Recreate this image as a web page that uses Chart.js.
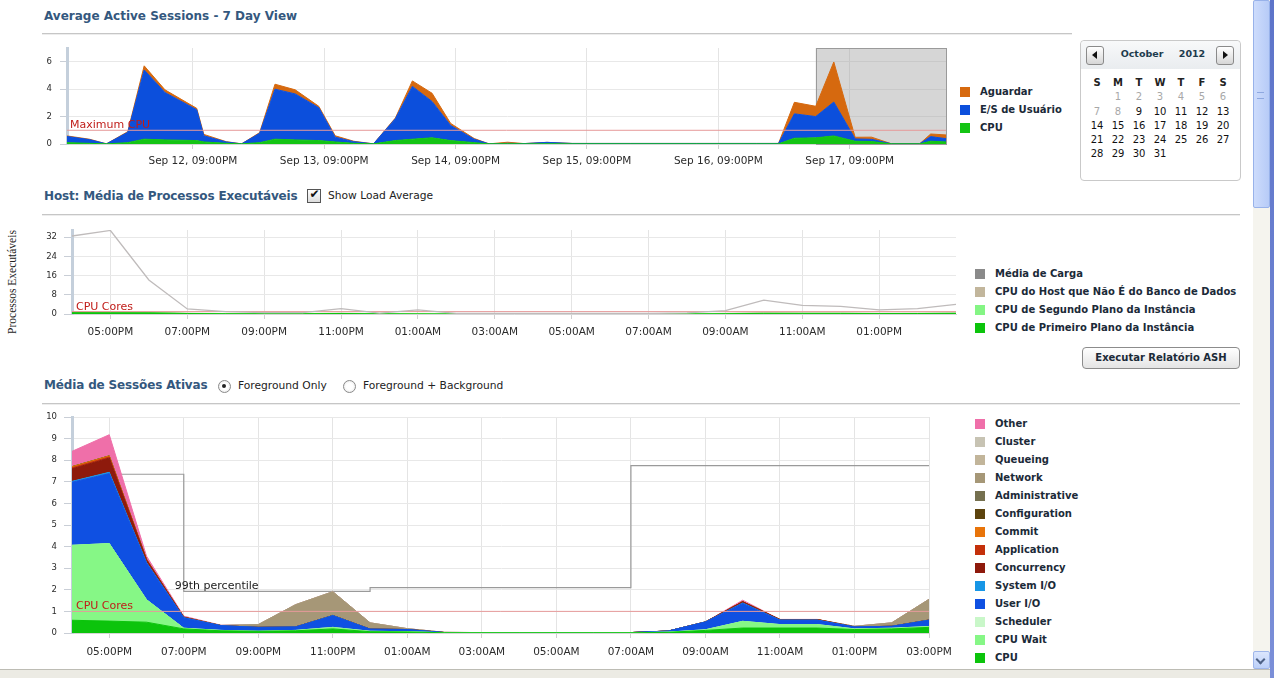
<!DOCTYPE html>
<html><head><meta charset="utf-8">
<script src="https://cdn.jsdelivr.net/npm/chart.js@4.4.0/dist/chart.umd.min.js"></script>
<style>
html,body{margin:0;padding:0;background:#fff;width:1274px;height:678px;overflow:hidden;font-family:"DejaVu Sans",sans-serif;}
.title{position:absolute;font:bold 12px "DejaVu Sans";color:#34587e;white-space:nowrap;line-height:14px;}
.sep{position:absolute;height:1px;background:#c6c6c6;border-bottom:1px solid #ededed;}
.leg{position:absolute;font:bold 10px "DejaVu Sans";color:#1b2a38;white-space:nowrap;line-height:12px;}
.leg i{position:absolute;left:-20px;top:1px;width:10px;height:10px;}
.opt{position:absolute;font:10.7px "DejaVu Sans";color:#222;white-space:nowrap;line-height:12px;}
.cv{position:absolute;}
.cal{position:absolute;left:1080px;top:40px;width:159px;height:139px;border:1px solid #c9c9c9;border-radius:4px;background:#fff;}
.calhead{position:absolute;left:0;top:0;width:159px;height:28px;background:linear-gradient(#f8f9fa,#e9ecef);border-radius:4px 4px 0 0;}
.cbtn{position:absolute;width:16px;height:17px;border:1px solid #8a8a8a;border-radius:3px;background:linear-gradient(#ffffff,#d6d6d6);}
.cd{position:absolute;width:20px;text-align:center;font:10px "DejaVu Sans";line-height:12px;}
.btn{position:absolute;left:1082px;top:347px;width:156px;height:20px;border:1px solid #8c8c8c;border-radius:4px;background:linear-gradient(#ffffff,#e4e4e4);font:bold 10px "DejaVu Sans";color:#1b2a38;text-align:center;line-height:20px;}
</style></head>
<body>
<script>
// ================= DATA =================
// Chart 1 : Average Active Sessions - 7 Day View (x = hours from Sep 12, 09:00PM)
const aasRange = [-23, 137.6];
const aasTickHours = [0, 24, 48, 72, 96, 120];
const aasTickLabels = ['Sep 12, 09:00PM','Sep 13, 09:00PM','Sep 14, 09:00PM','Sep 15, 09:00PM','Sep 16, 09:00PM','Sep 17, 09:00PM'];
const aasYTicks = [0, 2, 4, 6];
const aasYMax = 7;
const aasSeriesNames = ['CPU', 'E/S de Usuário', 'Aguardar'];
const aasHours = [-23, -18.9, -15.8, -11.9, -8.9, -5.1, 0.7, 2.0, 6.1, 8.9, 12.2, 15.0, 18.7, 23.0, 26.0, 29.4, 33.0, 37.0, 40.1, 43.7, 47.1, 51.4, 54.1, 57.5, 60.5, 64.7, 69.3, 80.0, 92.0, 103.0, 107.0, 109.9, 113.8, 117.1, 121.0, 124.0, 127.6, 132.8, 134.8, 137.6];
const aasCpu    = [0.10, 0.05, 0.01, 0.10, 0.35, 0.30, 0.25, 0.15, 0.05, 0.01, 0.10, 0.35, 0.30, 0.25, 0.15, 0.05, 0.01, 0.25, 0.35, 0.45, 0.25, 0.10, 0.01, 0.02, 0.01, 0.02, 0.01, 0.01, 0.01, 0.01, 0.01, 0.42, 0.45, 0.59, 0.20, 0.18, 0.01, 0.01, 0.20, 0.15];
const aasUserIO = [0.45, 0.27, 0.00, 0.75, 5.05, 3.45, 2.25, 0.45, 0.10, 0.00, 0.68, 3.65, 3.35, 2.40, 0.35, 0.12, 0.00, 1.60, 3.85, 2.65, 1.10, 0.25, 0.00, 0.03, 0.02, 0.10, 0.03, 0.03, 0.03, 0.03, 0.03, 1.78, 1.55, 2.47, 0.17, 0.16, 0.01, 0.01, 0.34, 0.24];
const aasWait   = [0.04, 0.03, 0.00, 0.05, 0.30, 0.20, 0.10, 0.10, 0.02, 0.00, 0.05, 0.36, 0.30, 0.10, 0.10, 0.03, 0.00, 0.05, 0.40, 0.60, 0.15, 0.05, 0.00, 0.08, 0.00, 0.00, 0.00, 0.00, 0.00, 0.00, 0.00, 0.84, 0.75, 2.92, 0.12, 0.16, 0.00, 0.00, 0.19, 0.27];
const aasMaxCpu = 1;
const aasSelection = [113.8, 137.6];

// Chart 2 : Host runnable processes (x = hours from 04:00PM)
const hostRange = [0, 23];
const hostHours = [0,1,2,3,4,5,6,7,8,9,10,11,12,13,14,15,16,17,18,19,20,21,22,23];
const hostTickHours = [1,3,5,7,9,11,13,15,17,19,21];
const hostTickLabels = ['05:00PM','07:00PM','09:00PM','11:00PM','01:00AM','03:00AM','05:00AM','07:00AM','09:00AM','11:00AM','01:00PM'];
const hostYTicks = [0, 8, 16, 24, 32];
const hostYMax = 35;
const hostLegendNames = ['Média de Carga','CPU do Host que Não É do Banco de Dados','CPU de Segundo Plano da Instância','CPU de Primeiro Plano da Instância'];
const hostLoad  = [32.5, 34.8, 14.2, 2.1, 1.0, 0.6, 0.6, 2.2, 0.4, 1.7, 0.3, 0.2, 0.2, 0.2, 0.2, 0.2, 0.5, 1.4, 5.8, 3.6, 3.2, 1.7, 2.2, 4.0];
const hostCpuFg = [0.60, 0.55, 0.50, 0.20, 0.10, 0.08, 0.10, 0.20, 0.06, 0.05, 0.02, 0.02, 0.02, 0.02, 0.02, 0.02, 0.03, 0.12, 0.25, 0.25, 0.25, 0.17, 0.20, 0.27];
const hostCpuBg = [0.15, 0.15, 0.10, 0.05, 0.05, 0.05, 0.05, 0.05, 0.05, 0.05, 0.03, 0.03, 0.03, 0.03, 0.03, 0.03, 0.03, 0.05, 0.08, 0.06, 0.06, 0.05, 0.05, 0.06];
const hostNonDb = [0.10, 0.10, 0.10, 0.08, 0.05, 0.05, 0.05, 0.10, 0.05, 0.08, 0.03, 0.03, 0.03, 0.03, 0.03, 0.03, 0.05, 0.10, 0.20, 0.10, 0.10, 0.08, 0.08, 0.10];
const hostCores = 1;

// Chart 3 : Média de Sessões Ativas (x = hours from 04:00PM)
const sessRange = [0, 23];
const sessHours = [0,1,2,3,4,5,6,7,8,9,10,11,12,13,14,15,16,17,18,19,20,21,22,23];
const sessTickHours = [1,3,5,7,9,11,13,15,17,19,21,23];
const sessTickLabels = ['05:00PM','07:00PM','09:00PM','11:00PM','01:00AM','03:00AM','05:00AM','07:00AM','09:00AM','11:00AM','01:00PM','03:00PM'];
const sessYTicks = [0,1,2,3,4,5,6,7,8,9,10];
const sessYMax = 10;
const sessSeriesNames = ['CPU','CPU Wait','Scheduler','User I/O','System I/O','Concurrency','Application','Commit','Configuration','Administrative','Network','Queueing','Cluster','Other'];
const sessCpu            = [0.59, 0.55, 0.50, 0.19, 0.10, 0.08, 0.10, 0.19, 0.06, 0.05, 0.01, 0.01, 0.01, 0.01, 0.01, 0.01, 0.03, 0.12, 0.23, 0.23, 0.23, 0.16, 0.19, 0.26];
const sessCpuWait        = [3.47, 3.59, 1.04, 0.03, 0.02, 0.00, 0.02, 0.07, 0.02, 0.01, 0, 0, 0, 0, 0, 0, 0.01, 0.03, 0.31, 0.16, 0.16, 0.03, 0.03, 0.04];
const sessScheduler      = [0, 0, 0, 0, 0, 0, 0, 0, 0, 0, 0, 0, 0, 0, 0, 0, 0, 0, 0, 0, 0, 0, 0, 0];
const sessUserIO         = [2.92, 3.24, 1.70, 0.48, 0.22, 0.18, 0.16, 0.54, 0.10, 0.10, 0.01, 0.01, 0.01, 0.01, 0.01, 0.01, 0.05, 0.36, 0.83, 0.20, 0.20, 0.09, 0.09, 0.29];
const sessSystemIO       = [0.04, 0.06, 0.02, 0.01, 0, 0, 0, 0.01, 0, 0, 0, 0, 0, 0, 0, 0, 0, 0, 0.02, 0.01, 0.01, 0, 0, 0.01];
const sessConcurrency    = [0.58, 0.66, 0.12, 0.02, 0, 0, 0, 0, 0, 0, 0, 0, 0, 0, 0, 0, 0, 0, 0.06, 0.02, 0.02, 0, 0, 0];
const sessApplication    = [0.05, 0.05, 0.02, 0, 0, 0, 0, 0, 0, 0, 0, 0, 0, 0, 0, 0, 0, 0, 0, 0, 0, 0, 0, 0];
const sessCommit         = [0.05, 0.05, 0.01, 0, 0, 0, 0, 0, 0, 0, 0, 0, 0, 0, 0, 0, 0, 0, 0, 0, 0, 0, 0, 0];
const sessConfiguration  = [0, 0, 0, 0, 0, 0, 0, 0, 0, 0, 0, 0, 0, 0, 0, 0, 0, 0, 0, 0, 0, 0, 0, 0];
const sessAdministrative = [0, 0, 0, 0, 0, 0, 0, 0, 0, 0, 0, 0, 0, 0, 0, 0, 0, 0, 0, 0, 0, 0, 0, 0];
const sessNetwork        = [0, 0, 0, 0, 0.01, 0.13, 1.03, 1.10, 0.29, 0.04, 0.01, 0, 0, 0, 0, 0, 0, 0, 0, 0, 0, 0.03, 0.16, 0.96];
const sessQueueing       = [0, 0, 0, 0, 0, 0, 0, 0, 0, 0, 0, 0, 0, 0, 0, 0, 0, 0, 0, 0, 0, 0, 0, 0];
const sessCluster        = [0, 0, 0, 0, 0, 0, 0, 0, 0, 0, 0, 0, 0, 0, 0, 0, 0, 0, 0, 0, 0, 0, 0, 0];
const sessOther          = [0.71, 0.98, 0.15, 0.05, 0.01, 0, 0, 0, 0, 0, 0, 0, 0, 0, 0, 0, 0, 0, 0.07, 0.01, 0.01, 0, 0, 0];
const p99Hours  = [0, 3, 8, 15, 23];
const p99Values = [7.35, 1.93, 2.1, 7.75, 7.75];
const p99Label = '99th percentile';
const sessCores = 1;

// Calendar
const calMonth = 'October', calYear = '2012';
const calWeekdays = ['S','M','T','W','T','F','S'];
const calFirstWeekday = 1, calDaysInMonth = 31, calFirstEnabled = 9;

// ================= STYLES =================
const aasColors = ['#14c414', '#0c4fdc', '#d6690f'];
const hostColors = {load:'#bfbbbb', loadLegend:'#8a8a8a', nonDb:'#c2b69c', bg:'#84f584', fg:'#0cc40c'};
const sessColors = ['#0cc40c','#86f786','#c9f7c9','#0f50e2','#1796e6','#8e1a0c','#c4300a','#e8740a','#5c430d','#75704f','#a69777','#c2b59a','#c7c3b3','#ef6fa9'];
const refRed = '#e69a9a', refText = '#c01c18';

Chart.defaults.font.family = '"DejaVu Sans", sans-serif';
Chart.defaults.color = '#2b2b2b';

function el(tag, cls, css, text) {
  const e = document.createElement(tag);
  if (cls) e.className = cls;
  if (css) e.style.cssText = css;
  if (text !== undefined) e.textContent = text;
  document.body.appendChild(e);
  return e;
}
function legend(names, colors, left, top0, step) {
  names.forEach((n, i) => {
    const d = el('div', 'leg', `left:${left}px;top:${top0 + i*step - 6}px;`, n);
    const sq = document.createElement('i');
    sq.style.background = colors[i];
    d.appendChild(sq);
  });
}
function makeCanvas(left, top, w, h) {
  const c = el('canvas', 'cv', `left:${left}px;top:${top}px;width:${w}px;height:${h}px;`);
  c.width = w; c.height = h;
  return c;
}
function pts(xs, ys) { return ys.map((v, i) => ({x: xs[i], y: v})); }
function areas(names, colors, series, xs) {
  return series.map((vals, i) => ({
    label: names[i], data: pts(xs, vals),
    backgroundColor: colors[i], borderColor: colors[i], borderWidth: 1,
    fill: i === 0 ? 'origin' : '-1', pointRadius: 0, tension: 0
  }));
}
function refLine(range, v) {
  return {label:'ref', data:[{x:range[0], y:v},{x:range[1], y:v}], stack:'ref', order:-1,
    borderColor: refRed, borderWidth: 1, fill: false, pointRadius: 0};
}
function xScale(range, tv, tl, h, pad) {
  return {
    type:'linear', min:range[0], max:range[1],
    afterBuildTicks: s => { s.ticks = tv.map(v => ({value:v})); },
    afterFit: s => { s.height = h; s.paddingLeft = 0; s.paddingRight = 0; },
    ticks: {autoSkip:false, maxRotation:0, padding:pad, color:'#2b2b2b', font:{size:10.5}, callback:(v, i) => tl[i]},
    grid: {color:'#e4e4e4', tickLength:5, tickColor:'#d0d0d0'},
    border: {display:true, color:'#d6d6d6'}
  };
}
function yScale(max, tv, w, tl, pad) {
  return {
    type:'linear', min:0, max:max, stacked:true,
    afterBuildTicks: s => { s.ticks = tv.map(v => ({value:v})); },
    afterFit: s => { s.width = w; s.paddingTop = 0; s.paddingBottom = 0; },
    ticks: {padding:pad, color:'#2b2b2b', font:{size:8.5}, callback: v => String(v)},
    grid: {color:'#e8e8e8', tickLength:tl, tickColor:'#c9ced6'},
    border: {display:true, color:'#c4cfdb', width:3}
  };
}
function labelPlugin(id, text, value, dx, color, font, xValue, dy) {
  return {id, afterDatasetsDraw(chart) {
    const {ctx, chartArea, scales} = chart;
    ctx.save();
    ctx.font = font; ctx.fillStyle = color; ctx.textBaseline = 'alphabetic';
    const x = xValue === undefined ? chartArea.left + dx : scales.x.getPixelForValue(xValue) + dx;
    ctx.fillText(text, x, scales.y.getPixelForValue(value) + dy);
    ctx.restore();
  }};
}
const baseOpts = (pad, scales) => ({
  responsive:false, animation:false, devicePixelRatio:1,
  layout:{padding:pad, autoPadding:false},
  plugins:{legend:{display:false}, tooltip:{enabled:false}},
  elements:{point:{radius:0}, line:{tension:0}},
  scales
});

// ================= PAGE FURNITURE =================
el('div', 'title', 'left:44px;top:9px;', 'Average Active Sessions - 7 Day View');
el('div', 'sep', 'left:42px;top:33px;width:1030px;');
el('div', 'title', 'left:44px;top:189px;letter-spacing:-0.15px;', 'Host: Média de Processos Executáveis');
el('div', '', 'position:absolute;left:307px;top:189px;width:12px;height:12px;border:1px solid #555;background:linear-gradient(#ffffff,#dcdcdc);');
el('div', '', 'position:absolute;left:308px;top:187px;width:13px;font:bold 12px "DejaVu Sans";color:#111;text-align:center;line-height:15px;', '✔');
el('div', 'opt', 'left:328px;top:190px;', 'Show Load Average');
el('div', 'sep', 'left:42px;top:214px;width:1198px;');
el('div', '', 'position:absolute;left:12px;top:282px;transform:translate(-50%,-50%) rotate(-90deg);font:11.5px "Liberation Serif",serif;color:#222;white-space:nowrap;', 'Processos Executáveis');
el('div', 'btn', '', 'Executar Relatório ASH');
el('div', 'title', 'left:44px;top:378px;letter-spacing:-0.15px;', 'Média de Sessões Ativas');
el('div', '', 'position:absolute;left:218px;top:380px;width:11px;height:11px;border:1px solid #8a8a8a;border-radius:50%;background:radial-gradient(circle,#ffffff 40%,#e2e2e2);');
el('div', '', 'position:absolute;left:222px;top:384px;width:4px;height:4px;border-radius:50%;background:#222;');
el('div', 'opt', 'left:238px;top:380px;', 'Foreground Only');
el('div', '', 'position:absolute;left:343px;top:380px;width:11px;height:11px;border:1px solid #8a8a8a;border-radius:50%;background:radial-gradient(circle,#ffffff 40%,#e2e2e2);');
el('div', 'opt', 'left:363px;top:380px;', 'Foreground + Background');
el('div', 'sep', 'left:42px;top:403px;width:1198px;');

// scrollbar + window frame
el('div', '', 'position:absolute;left:1253px;top:0;width:17px;height:669px;background:#f5f4ee;');
el('div', '', 'position:absolute;left:1253px;top:0;width:15px;height:206px;border:1px solid #98b2ea;border-radius:2px;background:linear-gradient(to right,#cddcfc,#b7cbf7);');
el('div', '', 'position:absolute;left:1257px;top:92px;width:7px;height:5px;border-top:1px solid #8ea8e0;border-bottom:1px solid #8ea8e0;');
el('div', '', 'position:absolute;left:1253px;top:651px;width:15px;height:16px;border:1px solid #9fb6ea;border-radius:2px;background:linear-gradient(#dbe6fd,#bcd0f8);');
el('div', '', 'position:absolute;left:1257px;top:656px;width:5px;height:5px;border-right:2px solid #4d6185;border-bottom:2px solid #4d6185;transform:rotate(45deg);');
el('div', '', 'position:absolute;left:1270px;top:0;width:4px;height:678px;background:linear-gradient(#5d74c9,#7b8fd8);');
el('div', '', 'position:absolute;left:0;top:669px;width:1270px;height:9px;background:#ecebe4;border-top:1px solid #bdbcb4;');

// calendar
const cal = el('div', 'cal');
const ch = document.createElement('div'); ch.className = 'calhead'; cal.appendChild(ch);
el('div', 'cbtn', 'left:1086px;top:46px;');
el('div', '', 'position:absolute;left:1092px;top:51px;width:0;height:0;border-top:4px solid transparent;border-bottom:4px solid transparent;border-right:5px solid #111;');
el('div', 'cbtn', 'left:1216px;top:46px;');
el('div', '', 'position:absolute;left:1223px;top:51px;width:0;height:0;border-top:4px solid transparent;border-bottom:4px solid transparent;border-left:5px solid #111;');
el('div', '', 'position:absolute;left:1112px;top:48px;width:60px;text-align:center;font:bold 9.5px "DejaVu Sans";color:#1d3b4d;line-height:12px;', calMonth);
el('div', '', 'position:absolute;left:1172px;top:48px;width:40px;text-align:center;font:bold 9.5px "DejaVu Sans";color:#1d3b4d;line-height:12px;', calYear);
const calCols = [1097, 1118, 1139, 1160, 1181, 1202, 1223];
const calRows = [97, 112, 126, 140, 154];
calWeekdays.forEach((d, i) => el('div', 'cd', `left:${calCols[i]-10}px;top:${83-6}px;font-weight:bold;color:#222;`, d));
for (let day = 1; day <= calDaysInMonth; day++) {
  const idx = calFirstWeekday + day - 1;
  const r = Math.floor(idx / 7), c = idx % 7;
  el('div', 'cd', `left:${calCols[c]-10}px;top:${calRows[r]-6}px;color:${day < calFirstEnabled ? '#a8a8a8' : '#111'};`, String(day));
}

// ================= CHART 1 =================
legend(aasSeriesNames.slice().reverse(), aasColors.slice().reverse(), 980, 91.5, 18);
const selPlugin = {id:'sel', beforeDatasetsDraw(chart) {
  const {ctx, scales:{x, y}} = chart;
  const x0 = x.getPixelForValue(aasSelection[0]), x1 = x.getPixelForValue(aasSelection[1]);
  const y0 = y.getPixelForValue(aasYMax), y1 = y.getPixelForValue(0);
  ctx.save();
  ctx.fillStyle = 'rgba(165,165,165,0.45)';
  ctx.fillRect(x0, y0, x1 - x0, y1 - y0);
  ctx.strokeStyle = '#9a9a9a'; ctx.lineWidth = 1;
  ctx.strokeRect(Math.round(x0) + 0.5, Math.round(y0) + 0.5, Math.round(x1 - x0), Math.round(y1 - y0));
  ctx.restore();
}};
new Chart(makeCanvas(0, 40, 960, 136), {
  type:'line',
  data:{datasets:[...areas(aasSeriesNames, aasColors, [aasCpu, aasUserIO, aasWait], aasHours), refLine(aasRange, aasMaxCpu)]},
  options: baseOpts({left:0, right:14, top:8, bottom:0}, {
    x: xScale(aasRange, aasTickHours, aasTickLabels, 32, 6),
    y: yScale(aasYMax, aasYTicks, 67, 7, 8)
  }),
  plugins:[selPlugin, labelPlugin('mx', 'Maximum CPU', aasMaxCpu, 3, refText, '11px "DejaVu Sans"', undefined, -2)]
});

// ================= CHART 2 =================
legend(hostLegendNames, [hostColors.loadLegend, hostColors.nonDb, hostColors.bg, hostColors.fg], 995, 273.5, 18);
new Chart(makeCanvas(0, 222, 980, 122), {
  type:'line',
  data:{datasets:[
    ...areas(['CPU de Primeiro Plano da Instância','CPU de Segundo Plano da Instância','CPU do Host que Não É do Banco de Dados'],
             [hostColors.fg, hostColors.bg, hostColors.nonDb], [hostCpuFg, hostCpuBg, hostNonDb], hostHours),
    refLine(hostRange, hostCores),
    {label:'Média de Carga', data: pts(hostHours, hostLoad), stack:'load', order:-2, borderColor:hostColors.load, borderWidth:1.3, fill:false, pointRadius:0}
  ]},
  options: baseOpts({left:0, right:24, top:8, bottom:0}, {
    x: xScale(hostRange, hostTickHours, hostTickLabels, 30, 7),
    y: yScale(hostYMax, hostYTicks, 72, 8, 7)
  }),
  plugins:[labelPlugin('cc2', 'CPU Cores', hostCores, 4, refText, '11px "DejaVu Sans"', undefined, -2)]
});

// ================= CHART 3 =================
legend(sessSeriesNames.slice().reverse(), sessColors.slice().reverse(), 995, 424, 18);
const sessSeries = [sessCpu, sessCpuWait, sessScheduler, sessUserIO, sessSystemIO, sessConcurrency, sessApplication, sessCommit, sessConfiguration, sessAdministrative, sessNetwork, sessQueueing, sessCluster, sessOther];
new Chart(makeCanvas(0, 408, 962, 255), {
  type:'line',
  data:{datasets:[
    ...areas(sessSeriesNames, sessColors, sessSeries, sessHours),
    refLine(sessRange, sessCores),
    {label:'p99', data: pts(p99Hours, p99Values), stack:'p99', order:5, stepped:'before', borderColor:'#9a9a9a', borderWidth:1.2, fill:false, pointRadius:0}
  ]},
  options: baseOpts({left:0, right:33, top:9, bottom:0}, {
    x: xScale(sessRange, sessTickHours, sessTickLabels, 30, 8),
    y: yScale(sessYMax, sessYTicks, 72, 8, 7)
  }),
  plugins:[
    labelPlugin('cc3', 'CPU Cores', sessCores, 4, refText, '11px "DejaVu Sans"', undefined, -2),
    labelPlugin('p99', p99Label, p99Values[1], -9, '#1a1a1a', '11px "DejaVu Sans"', p99Hours[1], -2)
  ]
});
</script>
</body></html>
